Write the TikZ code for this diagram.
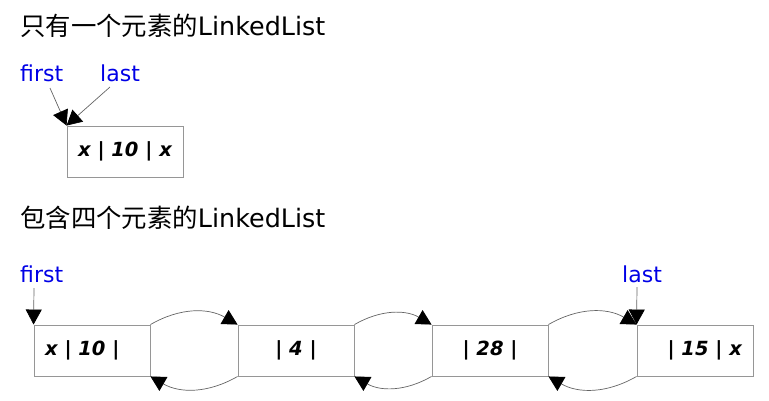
\documentclass[tikz,border=0pt]{standalone}
\usepackage{fontspec}
\setmainfont{DejaVu Sans}
\newfontfamily\cjk{Noto Sans CJK SC}
\usetikzlibrary{arrows.meta}
\definecolor{lblue}{RGB}{0,0,230}
\definecolor{boxgray}{RGB}{150,150,150}
\definecolor{linegray}{RGB}{100,100,100}
\begin{document}
\begin{tikzpicture}[x=1pt,y=-1pt,
  title/.style={anchor=base west,inner sep=0pt,font=\fontsize{25.4}{30}\selectfont},
  ptr/.style={anchor=base west,inner sep=0pt,text=lblue,font=\fontsize{22}{26}\selectfont},
  cell/.style={draw=boxgray,line width=0.9pt,minimum width=116pt,minimum height=51pt,inner sep=0pt,font=\fontsize{19.5}{23}\selectfont\bfseries\itshape},
  link/.style={draw=linegray,line width=0.7pt,-{Triangle[length=15pt,width=16pt,color=black]}}]
\useasboundingbox (0,0) rectangle (769,400);
% first picture
\node[title] (t1) at (20,35) {{\cjk 只有一个元素的}LinkedList};
\node[ptr] (f1) at (20,81) {first};
\node[ptr] (l1) at (100,81) {last};
\node[cell] (n0) at (125,151.5) {x | 10 | x};
\coordinate (f1s) at (50,88);
\coordinate (l1s) at (110,87);
\draw[link] (f1s) -- (n0.north west);
\draw[link] (l1s) -- (n0.north west);
% second picture
\node[title] (t2) at (20,227) {{\cjk 包含四个元素的}LinkedList};
\node[ptr] (f2) at (20,282) {first};
\node[ptr] (l2) at (622,282) {last};
\node[cell] (a) at (92,350.5) {x | 10 |\phantom{ x}};
\node[cell] (b) at (296,350.5) {| 4 |};
\node[cell] (c) at (490,350.5) {| 28 |};
\node[cell] (d) at (695,350.5) {\phantom{x }| 15 | x};
\coordinate (f2s) at (34,288);
\coordinate (l2s) at (637,287);
\draw[link] (f2s) -- (a.north west);
\draw[link] (l2s) -- (d.north west);
\draw[link] (a.north east) to[bend left=30] (b.north west);
\draw[link] (b.south west) to[bend left=30] (a.south east);
\draw[link] (b.north east) to[bend left=30] (c.north west);
\draw[link] (c.south west) to[bend left=30] (b.south east);
\draw[link] (c.north east) to[bend left=30] (d.north west);
\draw[link] (d.south west) to[bend left=30] (c.south east);
\end{tikzpicture}
\end{document}
